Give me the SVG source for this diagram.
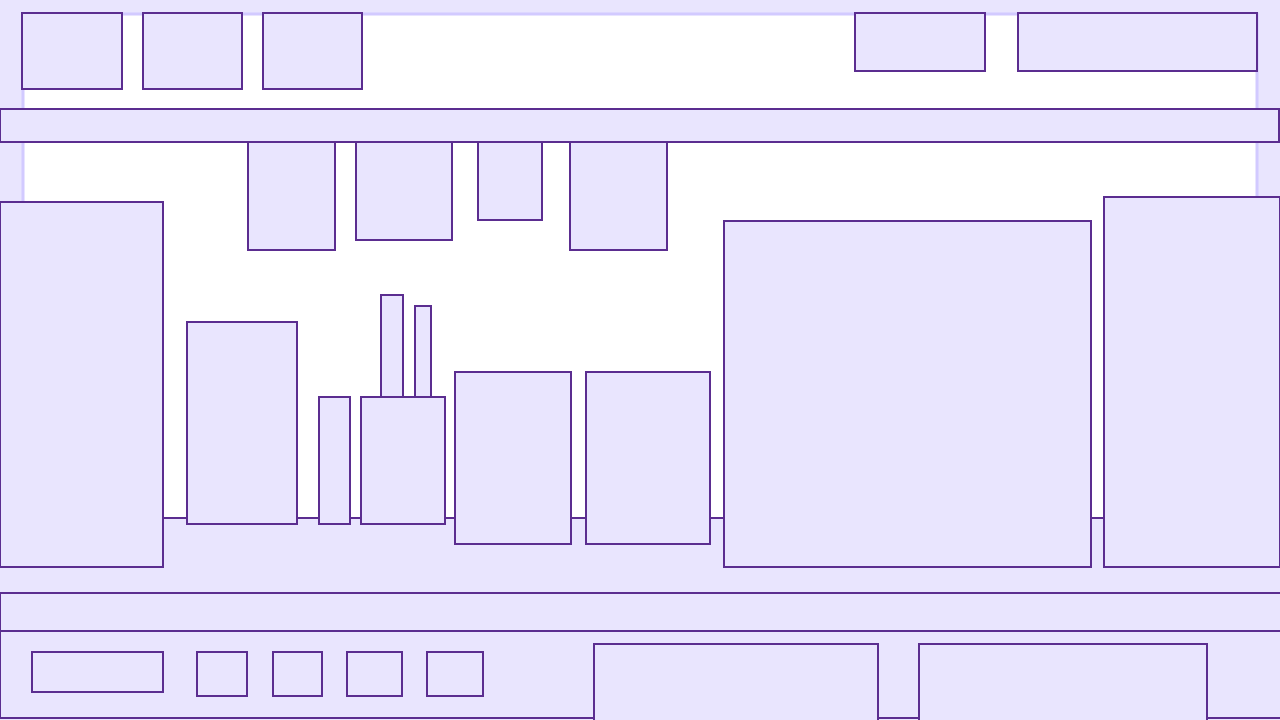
<svg xmlns="http://www.w3.org/2000/svg" width="1280" height="720" viewBox="0 0 1280 720">
<style>
.n{fill:#e9e5fe;stroke:#5b2d90;stroke-width:2}
</style>
<rect x="0" y="0" width="1280" height="720" fill="#e9e5fe"/>
<rect x="23" y="14" width="1234" height="506" fill="#ffffff" stroke="#d2caff" stroke-width="3"/>
<g id="base"><rect class="n" x="-1" y="518" width="1282" height="75"/></g>
<g id="bar2"><rect class="n" x="0" y="593" width="1281" height="38"/></g>
<g id="footer"><rect class="n" x="0" y="631" width="1281" height="87"/></g>
<g id="t1"><rect class="n" x="22" y="13" width="100" height="76"/></g>
<g id="t2"><rect class="n" x="143" y="13" width="99" height="76"/></g>
<g id="t3"><rect class="n" x="263" y="13" width="99" height="76"/></g>
<g id="t4"><rect class="n" x="855" y="13" width="130" height="58"/></g>
<g id="t5"><rect class="n" x="1018" y="13" width="239" height="58"/></g>
<g id="bar"><rect class="n" x="0" y="109" width="1279" height="33"/></g>
<g id="h1"><rect class="n" x="248" y="142" width="87" height="108"/></g>
<g id="h2"><rect class="n" x="356" y="142" width="96" height="98"/></g>
<g id="h3"><rect class="n" x="478" y="142" width="64" height="78"/></g>
<g id="h4"><rect class="n" x="570" y="142" width="97" height="108"/></g>
<g id="left"><rect class="n" x="0" y="202" width="163" height="365"/></g>
<g id="m1"><rect class="n" x="187" y="322" width="110" height="202"/></g>
<g id="m2"><rect class="n" x="319" y="397" width="31" height="127"/></g>
<g id="m3a"><rect class="n" x="381" y="295" width="22" height="102"/></g>
<g id="m3b"><rect class="n" x="415" y="306" width="16" height="91"/></g>
<g id="m3"><rect class="n" x="361" y="397" width="84" height="127"/></g>
<g id="m4"><rect class="n" x="455" y="372" width="116" height="172"/></g>
<g id="m5"><rect class="n" x="586" y="372" width="124" height="172"/></g>
<g id="big"><rect class="n" x="724" y="221" width="367" height="346"/></g>
<g id="right"><rect class="n" x="1104" y="197" width="176" height="370"/></g>
<g id="f1"><rect class="n" x="32" y="652" width="131" height="40"/></g>
<g id="f2"><rect class="n" x="197" y="652" width="50" height="44"/></g>
<g id="f3"><rect class="n" x="273" y="652" width="49" height="44"/></g>
<g id="f4"><rect class="n" x="347" y="652" width="55" height="44"/></g>
<g id="f5"><rect class="n" x="427" y="652" width="56" height="44"/></g>
<g id="f6"><rect class="n" x="594" y="644" width="284" height="84"/></g>
<g id="f7"><rect class="n" x="919" y="644" width="288" height="84"/></g>
<g id="connectors"></g>
</svg>
